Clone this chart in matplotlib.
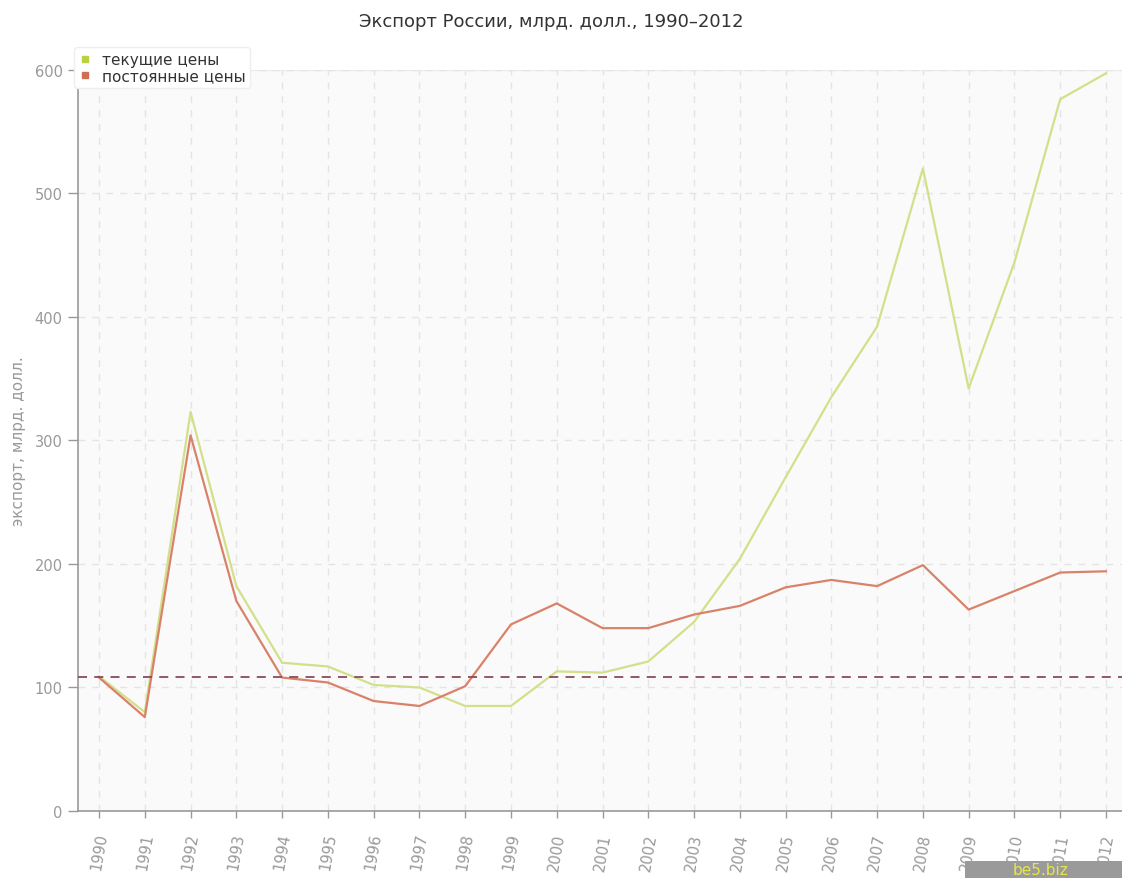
import matplotlib
matplotlib.use("Agg")
import matplotlib.pyplot as plt
from matplotlib.patches import Rectangle

years = list(range(1990, 2013))
current_prices = [109, 80, 323, 182, 120, 117, 102, 100, 85, 85, 113, 112, 121, 153, 204,
                  270, 335, 392, 520, 342, 444, 576, 597]
constant_prices = [108, 76, 304, 170, 108, 104, 89, 85, 101, 151, 168, 148, 148, 159, 166,
                   181, 187, 182, 199, 163, 178, 193, 194]
baseline = 108.5
title = "Экспорт России, млрд. долл., 1990–2012"
ylabel = "экспорт, млрд. долл."
legend_labels = ["текущие цены", "постоянные цены"]

plt.rcParams['font.family'] = ['DejaVu Sans']
fig = plt.figure(figsize=(11.22, 8.79), dpi=100)
ax = fig.add_axes([0.0695, 0.0762, 0.9305, 0.8435])
ax.set_facecolor('#fafafa')

ax.plot(years, current_prices, color='#d2e08a', lw=1.6, label=legend_labels[0], zorder=3)
ax.plot(years, constant_prices, color='#d9826a', lw=1.6, label=legend_labels[1], zorder=4)
ax.axhline(baseline, color='#8a4a5e', lw=1.3, ls=(0, (5, 4)), zorder=5)

ax.set_xlim(1989.54, 2012.35)
ax.set_ylim(0, 600)
ax.set_xticks(years)
ax.set_xticklabels([str(y) for y in years], rotation=80, color='#999999', fontsize=10.5)
ax.set_yticks([0, 100, 200, 300, 400, 500, 600])
ax.tick_params(axis='y', colors='#999999', labelsize=10.5, length=7, width=1, direction='out', pad=4)
ax.tick_params(axis='x', length=5, width=1, colors='#999999', pad=10)
ax.grid(True, color='#e4e4e4', ls=(0, (5, 5)), lw=1)
for s in ['top', 'right']:
    ax.spines[s].set_visible(False)
ax.spines['left'].set_color('#999999')
ax.spines['bottom'].set_color('#999999')
ax.spines['left'].set_linewidth(1.2)
ax.spines['bottom'].set_linewidth(1.2)
ax.axhline(600, color='#ebebeb', lw=1, zorder=1)

ax.set_ylabel(ylabel, color='#999999', fontsize=11, labelpad=6)

fig.text(0.491, 0.975, title, ha='center', va='center', fontsize=13, color='#333333')

handles = [plt.Line2D([], [], marker='s', ls='none', color='#b8d243', markersize=5),
           plt.Line2D([], [], marker='s', ls='none', color='#cf6e54', markersize=5)]
leg = fig.legend(handles, legend_labels, loc='upper left', bbox_to_anchor=(0.066, 0.945),
                 frameon=True, fontsize=11, handlelength=0.8, handletextpad=0.7,
                 borderpad=0.3, labelspacing=0.1, fancybox=True, borderaxespad=0)
leg.get_frame().set_edgecolor('#eeeeee')
leg.get_frame().set_facecolor('white')
leg.get_frame().set_alpha(1)
for t in leg.get_texts():
    t.set_color('#333333')

fig.patches.append(Rectangle((965 / 1122, 0), 157 / 1122, 17 / 879, transform=fig.transFigure,
                             facecolor='#9a9a9a', edgecolor='none', zorder=10))
fig.text(1040 / 1122, 8 / 879, "be5.biz", ha='center', va='center', fontsize=11,
         color='#e6e64a', zorder=11)

fig.savefig('out.png', dpi=100)
